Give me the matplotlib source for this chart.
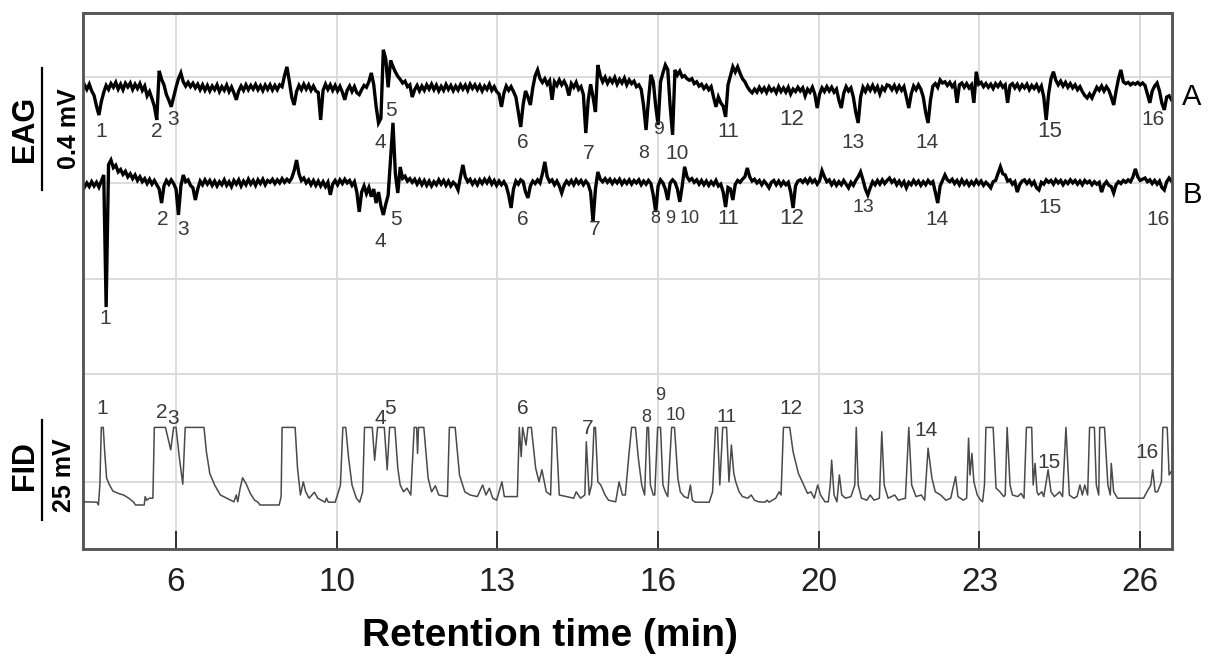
import numpy as np
import matplotlib
matplotlib.use("Agg")
import matplotlib.pyplot as plt
import matplotlib.transforms as mtransforms

plt.rcParams['font.family'] = ['Liberation Sans', 'DejaVu Sans']

# ---------------------------------------------------------------------------
# EAG recordings: deflection from resting level in microvolts,
# sampled every 0.05 min starting at 4.00 min (one row per minute)
# ---------------------------------------------------------------------------
eag_start = 4.0
eag_step = 0.05

eag_a = [
    5, -8, 10, -5, 12, -10, -25, -60, -89, -45, -15, 8, -5, 14, 2, 18, -4, 12, -6, 15,
    3, 16, -5, 12, -2, 14, -8, 6, -26, -12, -35, -60, -105, 56, 28, 10, -22, -40, -62, -30,
    2, 30, 49, 20, 6, 18, 4, 15, 0, 12, -6, 10, -8, 8, -10, 6, -6, 10, -12, 4,
    -8, 9, -12, 3, -16, -39, -10, 6, -8, 10, -6, 8, -4, 11, -6, 7, -9, 9, -5, 10,
    -7, 8, -6, 10, 4, 40, 69, 22, -30, -56, -12, 8, -6, 12, -4, 10, -8, 6, -10, -15,
    -105, -8, 12, -5, 10, -8, 8, -10, 5, -14, -39, -8, 6, -12, 4, -16, -22, -6, 8, 2,
    20, 49, 12, -60, -115, -100, 125, 95, 2, 90, 70, 52, 38, 28, 16, 22, 4, 10, -30, -6,
    8, -10, 6, -8, 10, -4, 12, -6, 9, -10, 5, -8, 11, -5, 8, -9, 6, -7, 10, -4,
    9, -8, 12, -2, 10, -6, 8, -10, 6, -5, 12, -8, 4, -12, -20, -62, -18, 6, -8, 4,
    -12, -30, -80, -128, -55, -10, -30, -56, 0, 40, 59, 30, 18, 30, 12, 24, -39, 20, 8, 26,
    10, 22, 6, -25, 14, 2, 18, -5, 4, -22, -148, -40, 12, -30, -79, 75, 40, 20, 35, 15,
    30, 18, 34, 12, 28, 16, 32, 10, 26, 14, 22, 4, 10, -5, -60, -138, -40, 43, 20, -60,
    -121, 20, 49, 75, 60, -60, -154, 59, 42, 55, 36, 40, 30, 25, 30, 14, 20, 6, 12, -2,
    8, -6, 4, -30, -62, -30, -49, -60, -95, 10, 40, 69, 52, 69, 48, 30, 20, 4, -8, -16,
    -4, -14, 2, -12, 0, -15, 3, -10, -2, -16, 4, -12, 0, -14, 2, -20, -4, -12, 2, -10,
    0, -26, -4, -14, 2, -20, -66, -20, 0, -12, 4, -10, 2, -14, -4, -40, -66, -18, 4, -10,
    0, -30, -80, -115, -30, 2, -12, 6, -8, 8, -10, 4, -20, 2, -8, 10, 7, -6, 8, -10,
    6, -8, 4, -30, -66, -20, 6, -6, 10, -4, -30, -80, -115, -40, 6, 14, 2, 26, 16, 20,
    8, 18, 4, 14, -49, 10, 16, 2, 14, 0, 10, -49, 53, 12, 18, 4, 14, 2, 12, -2,
    14, 4, 16, 2, 10, -49, 8, 14, 0, 12, -4, 10, 0, 12, -6, 8, -2, 10, -8, 6,
    -30, -105, -20, 30, 53, 25, 10, 22, 6, 18, 2, 14, 0, 10, -6, 4, -12, -25, -33, -20,
    -33, -15, 2, -8, 6, -10, 4, -8, -30, -56, -10, 30, 59, 20, 14, 18, 10, 16, 12, 18,
    10, 16, 8, -20, -49, -10, 6, 16, -10, -50, -72, -30, -26, -39,
]

eag_b = [
    -10, 2, -14, 0, -12, 4, -10, 2, -14, 6, 26, -407, 60, 75, 50, 58, 36, 44, 28, 38,
    20, 30, 14, 26, 8, 20, 4, 14, -2, 12, -4, 8, -6, -20, -66, -10, 8, -4, 10, -2,
    -20, -105, -10, 26, 4, 10, -8, -16, -56, -20, 6, -6, 10, -4, 8, -8, 6, -10, 4, -6,
    10, -8, 4, -12, 8, -4, 10, -10, 6, -6, 12, -4, 8, -8, 10, -2, 12, -6, 8, 2,
    12, -2, 10, 0, 14, 2, 12, 4, 16, 40, 75, 30, 8, 16, 0, 10, -6, 8, -8, 6,
    -10, 4, -12, 2, -39, -4, 8, -6, 10, -2, 12, 0, 8, -8, 4, -30, -95, -30, -10, -35,
    -15, -45, -20, -66, -30, -75, -105, -70, -40, 80, 197, 30, -33, 52, 15, 22, 6, 14, 2, 12,
    -4, 10, -6, 8, -8, 6, -10, 4, -6, 10, -4, 8, -8, 6, -10, 2, -6, -23, 20, 59,
    20, 4, 12, -4, 8, -6, 10, -2, 12, 0, 14, -4, 8, -8, 6, -6, 4, -10, -40, -82,
    -20, 6, -4, 10, 4, -30, -49, -10, 6, -2, 10, 0, 30, 69, 20, 4, 10, -6, 6, -10,
    -33, -8, 6, -4, 8, -6, 10, -2, 8, -6, 6, -4, -30, -128, -20, 36, 12, 4, 14, 2,
    12, -2, 10, 0, 12, -4, 8, -2, 10, -4, 8, 0, 10, -6, 6, -4, 8, -2, -40, -95,
    -10, 10, 0, -20, -56, 0, 10, 2, -20, -62, -10, 53, 20, 8, 14, 2, 10, -4, 8, -6,
    6, -8, 4, -6, 8, -10, -4, -30, -79, -15, -20, -56, -5, 8, 2, 12, 20, 49, 20, 6,
    12, 0, 8, -6, 6, -4, -16, 2, 8, -6, 6, -8, 4, -6, 2, -30, -82, -10, 6, 10,
    2, 12, 0, 14, 2, 10, -4, 8, 40, 20, 4, 10, -6, 6, -8, 4, -6, 8, -4, -16,
    2, -8, 8, 20, 36, 10, -20, -39, -16, 4, -6, 8, -4, 10, -2, 8, 16, 2, 10, -6,
    6, -8, 4, -16, 2, -6, 8, -4, 6, -8, 4, -6, 8, -2, 4, -30, -66, -10, 8, 26,
    10, 4, 12, -2, 8, -6, 10, -4, 6, -8, 4, -6, 8, -4, 6, -8, 2, -6, -16, 4,
    8, 30, 53, 30, 26, 6, 10, -4, 4, -30, -6, 6, 10, -2, 8, -6, 4, -16, -23, 2,
    -4, 10, 2, 8, -4, 10, 0, 8, -6, 6, -2, 10, 0, 8, -4, 6, -6, 8, 0, 6,
    -6, 4, -4, 2, -30, -6, 4, -8, -12, -33, -6, 4, -2, 8, 2, 10, 4, 20, 46, 20,
    8, 12, 16, 4, 10, -2, 8, -4, 6, -15, -23, 4, 16, 6,
]

# ---------------------------------------------------------------------------
# FID chromatogram (min, mV above baseline); flat tops are detector clipping
# ---------------------------------------------------------------------------
fid_time = [
    4.07, 4.36, 4.39, 4.42, 4.45, 4.49, 4.52, 4.56, 4.62, 4.69, 4.80, 4.91, 5.02, 5.12, 5.16,
    5.34, 5.36, 5.39, 5.45, 5.52, 5.55, 5.78, 5.89, 5.95, 6.00, 6.07, 6.14, 6.19, 6.58, 6.63,
    6.70, 6.80, 6.92, 7.05, 7.20, 7.25, 7.28, 7.33, 7.38, 7.45, 7.54, 7.63, 7.70, 7.74, 8.14,
    8.18, 8.20, 8.47, 8.52, 8.58, 8.64, 8.69, 8.76, 8.87, 8.94, 9.09, 9.12, 9.16, 9.30, 9.36,
    9.41, 9.46, 9.52, 9.58, 9.65, 9.74, 9.81, 9.87, 9.91, 10.07, 10.12, 10.18, 10.32, 10.38,
    10.43, 10.54, 10.60, 10.65, 10.72, 10.79, 10.87, 10.94, 10.99, 11.01, 11.03, 11.14,
    11.23, 11.30, 11.38, 11.45, 11.63, 11.67, 11.79, 11.88, 11.99, 12.10, 12.25, 12.36,
    12.43, 12.50, 12.57, 12.65, 12.76, 12.81, 13.08, 13.12, 13.16, 13.19, 13.26, 13.30,
    13.37, 13.46, 13.53, 13.59, 13.68, 13.77, 13.81, 13.88, 13.95, 14.25, 14.30, 14.39,
    14.48, 14.51, 14.57, 14.62, 14.67, 14.70, 14.75, 14.81, 14.90, 14.97, 15.12, 15.19,
    15.26, 15.32, 15.40, 15.45, 15.53, 15.59, 15.66, 15.72, 15.77, 15.80, 15.84, 15.90,
    15.93, 15.99, 16.05, 16.10, 16.15, 16.20, 16.28, 16.34, 16.41, 16.46, 16.54, 16.62,
    16.67, 16.71, 16.77, 17.06, 17.13, 17.19, 17.23, 17.28, 17.34, 17.42, 17.47, 17.52,
    17.57, 17.61, 17.68, 17.75, 17.86, 17.93, 18.00, 18.08, 18.22, 18.26, 18.30, 18.44,
    18.51, 18.55, 18.60, 18.73, 18.80, 18.91, 19.02, 19.10, 19.17, 19.24, 19.31, 19.37,
    19.46, 19.53, 19.57, 19.60, 19.65, 19.71, 19.76, 19.81, 19.89, 20.00, 20.08, 20.11,
    20.15, 20.22, 20.33, 20.40, 20.48, 20.59, 20.64, 20.69, 20.77, 20.91, 20.98, 21.13,
    21.20, 21.26, 21.35, 21.46, 21.53, 21.60, 21.68, 21.75, 21.86, 21.97, 22.07, 22.17,
    22.22, 22.33, 22.40, 22.44, 22.47, 22.51, 22.55, 22.62, 22.69, 22.73, 22.77, 22.80,
    22.95, 23.01, 23.09, 23.17, 23.20, 23.24, 23.30, 23.35, 23.46, 23.53, 23.59, 23.64,
    23.75, 23.78, 23.82, 23.86, 23.89, 23.96, 24.00, 24.04, 24.09, 24.15, 24.22, 24.33,
    24.39, 24.46, 24.53, 24.62, 24.69, 24.75, 24.80, 24.85, 24.91, 24.95, 25.05, 25.09,
    25.14, 25.16, 25.26, 25.33, 25.38, 25.40, 25.45, 25.53, 26.07, 26.14, 26.22, 26.26,
    26.31, 26.36, 26.44, 26.47, 26.56, 26.60, 26.64,
]
fid_mv = [
    0.8, 0.7, 0.0, 5.0, 19.4, 19.4, 13.3, 6.7, 5.0, 3.5, 2.9, 2.5, 1.7, 0.7, 0.0,
    0.0, 2.1, 1.2, 1.7, 1.7, 19.4, 19.4, 13.8, 19.4, 19.4, 11.7, 5.2, 19.4, 19.4, 13.3,
    7.9, 5.0, 2.5, 1.7, 0.8, 2.5, 0.8, 4.2, 6.8, 5.4, 2.9, 1.2, 0.7, 0.0, 0.0,
    2.1, 19.4, 19.4, 9.2, 2.5, 5.8, 3.3, 1.7, 3.2, 1.7, 0.7, 1.7, 0.7, 0.7, 2.9,
    5.0, 19.4, 19.4, 11.7, 5.0, 1.7, 0.7, 3.2, 19.4, 19.4, 11.2, 19.4, 19.4, 8.8,
    19.4, 19.4, 9.2, 5.0, 3.3, 4.2, 2.5, 19.4, 19.4, 12.9, 19.4, 19.4,
    6.7, 3.3, 4.8, 2.5, 2.1, 19.4, 19.4, 7.5, 3.3, 2.5, 2.1, 5.0,
    2.5, 4.2, 1.7, 1.2, 5.8, 2.1, 2.1, 19.4, 12.1, 19.4, 15.0, 19.4,
    19.4, 9.2, 5.8, 8.8, 3.3, 2.5, 19.4, 19.4, 2.5, 1.7, 3.3, 1.7,
    2.5, 15.8, 2.5, 5.0, 19.4, 19.4, 5.8, 5.0, 2.5, 1.2, 0.8, 5.8,
    2.5, 2.5, 13.3, 19.4, 19.4, 11.7, 5.0, 2.5, 19.4, 19.4, 5.0, 2.5,
    2.5, 19.4, 19.4, 5.0, 3.3, 2.1, 19.4, 19.4, 6.7, 3.3, 2.1, 1.7,
    5.0, 1.2, 0.7, 0.7, 3.3, 19.4, 19.4, 5.0, 19.4, 19.4, 5.8, 15.0,
    7.9, 5.8, 3.3, 2.1, 1.7, 2.5, 1.2, 0.8, 0.7, 1.2, 0.7, 1.7,
    3.3, 2.5, 19.4, 19.4, 13.3, 7.9, 5.0, 2.9, 3.3, 1.7, 5.0, 2.5,
    0.8, 0.8, 5.0, 11.2, 2.5, 0.8, 7.5, 2.5, 1.7, 2.1, 5.0, 19.4,
    5.0, 1.7, 1.2, 2.5, 1.2, 1.7, 18.3, 5.0, 1.7, 2.5, 1.2, 1.7,
    19.4, 5.0, 2.1, 2.5, 1.2, 14.2, 6.7, 3.3, 2.5, 1.2, 1.7, 7.1,
    2.1, 1.2, 1.7, 16.7, 7.5, 12.9, 5.8, 2.5, 1.2, 0.8, 5.0, 19.4,
    19.4, 4.2, 3.3, 2.1, 2.5, 19.4, 5.0, 2.5, 2.1, 2.9, 1.7, 19.4,
    19.4, 5.0, 10.4, 3.3, 2.5, 3.3, 2.1, 5.0, 8.8, 3.3, 2.1, 3.3,
    2.1, 19.4, 2.5, 1.7, 2.1, 5.0, 2.5, 5.0, 2.5, 19.4, 19.4, 5.0,
    2.5, 19.4, 19.4, 5.0, 2.5, 10.4, 3.3, 1.7, 1.7, 3.3, 5.0, 8.8,
    3.3, 3.3, 5.8, 19.4, 19.4, 7.5, 8.3,
]

peak_ids = [str(i) for i in range(1, 17)]

# x-axis tick text
tick_labels = ['6', '10', '13', '16', '20', '23', '26']

# scale bars
eag_bar_mv = 0.4
fid_bar_mv = 25

# ---------------------------------------------------------------------------
# Layout
# ---------------------------------------------------------------------------
offset_a = 0.3115          # vertical shift of antenna A trace (mV)
eag_ylim = (-1.200, 0.557)
fid_ylim = (-11.0, 123.0)
xlim = (4.07, 26.66)

label_a_t = [4.44, 5.61, 5.94, 10.23, 10.46, 13.20, 14.55, 15.69, 16.00, 16.39,
             17.45, 18.78, 20.05, 21.58, 24.13, 26.27]
label_a_y = [0.167, 0.167, 0.207, 0.131, 0.239, 0.134, 0.098, 0.098, 0.174, 0.098,
             0.167, 0.207, 0.134, 0.134, 0.167, 0.207]
label_a_fs = [15, 15, 15, 15, 15, 15, 15, 14, 14, 15, 15, 16, 15, 15, 16, 15]

label_b_t = [4.53, 5.73, 6.15, 10.23, 10.56, 13.20, 14.69, 15.94, 16.25, 16.66,
             17.45, 18.78, 20.25, 21.79, 24.13, 26.37]
label_b_y = [-0.443, -0.121, -0.154, -0.193, -0.121, -0.121, -0.154, -0.115, -0.115,
             -0.115, -0.115, -0.115, -0.082, -0.121, -0.082, -0.121]
label_b_fs = [15, 15, 15, 15, 15, 15, 15, 13, 13, 13, 15, 16, 14, 15, 15, 15]

label_f_t = [4.46, 5.71, 5.94, 10.23, 10.44, 13.20, 14.53, 15.75, 16.04, 16.37,
             17.43, 18.76, 20.05, 21.56, 24.11, 26.15]
label_f_y = [24.25, 23.25, 21.75, 21.75, 24.25, 24.25, 19.25, 22.0, 27.5, 22.5,
             21.75, 24.25, 24.25, 18.75, 10.75, 13.25]
label_f_fs = [15, 15, 15, 15, 15, 15, 15, 13, 13, 13, 14, 15, 15, 15, 15, 15]

grid_levels = [0.348, 0.0, -0.315, -0.626, -0.980]

label_color = '#3a3a3a'
spine_color = '#555555'

fig = plt.figure(figsize=(12.09, 6.62), dpi=100)
ax = fig.add_axes([83 / 1209, 113 / 662, 1089 / 1209, 536 / 662])
ax2 = ax.twinx()

# EAG traces
t_a = eag_start + eag_step * np.arange(len(eag_a))
t_b = eag_start + eag_step * np.arange(len(eag_b))
ax.plot(t_a, np.asarray(eag_a) / 1000.0 + offset_a, color='black', lw=2.4,
        solid_joinstyle='miter', zorder=3)
ax.plot(t_b, np.asarray(eag_b) / 1000.0, color='black', lw=2.4,
        solid_joinstyle='miter', zorder=3)

# FID trace
ax2.plot(fid_time, fid_mv, color='#4a4a4a', lw=1.1, zorder=3)

ax.set_xlim(*xlim)
ax.set_ylim(*eag_ylim)
ax2.set_ylim(*fid_ylim)

# peak numbers
for lab, t, y, fs in zip(peak_ids, label_a_t, label_a_y, label_a_fs):
    ax.text(t, y, lab, ha='center', va='center', fontsize=fs,
            color=label_color, zorder=4)
for lab, t, y, fs in zip(peak_ids, label_b_t, label_b_y, label_b_fs):
    ax.text(t, y, lab, ha='center', va='center', fontsize=fs, color=label_color, zorder=4)
for lab, t, y, fs in zip(peak_ids, label_f_t, label_f_y, label_f_fs):
    ax2.text(t, y, lab, ha='center', va='center', fontsize=fs, color=label_color, zorder=4)

tr_eag = mtransforms.blended_transform_factory(ax.transAxes, ax.transData)
tr_fid = mtransforms.blended_transform_factory(ax2.transAxes, ax2.transData)

# antenna names
ax.text(1.0184, offset_a - 0.030, 'A', transform=tr_eag, ha='center', va='center',
        fontsize=21, clip_on=False)
ax.text(1.0184, -0.039, 'B', transform=tr_eag, ha='center', va='center',
        fontsize=21, clip_on=False)

# scale bars with their labels
bar_x = -0.0377
eag_bar_bottom = -0.023
fid_bar_bottom = -3.75
ax.plot([bar_x, bar_x], [eag_bar_bottom, eag_bar_bottom + eag_bar_mv], transform=tr_eag,
        color='black', lw=1.6, clip_on=False)
ax2.plot([bar_x, bar_x], [fid_bar_bottom, fid_bar_bottom + fid_bar_mv], transform=tr_fid,
         color='black', lw=1.6, clip_on=False)
ax.text(-0.0533, eag_bar_bottom + eag_bar_mv / 2, 'EAG', transform=tr_eag, rotation=90,
        ha='center', va='center', fontsize=22, fontweight='bold')
ax.text(-0.0129, eag_bar_bottom + eag_bar_mv / 2, f'{eag_bar_mv} mV', transform=tr_eag,
        rotation=90, ha='center', va='center', fontsize=18, fontweight='bold')
ax2.text(-0.0533, 9.75, 'FID', transform=tr_fid, rotation=90,
         ha='center', va='center', fontsize=22, fontweight='bold')
ax2.text(-0.0174, 7.5, f'{fid_bar_mv} mV', transform=tr_fid, rotation=90,
         ha='center', va='center', fontsize=18, fontweight='bold')

# axes cosmetics
ax.set_xticks(np.linspace(6, 26, 7))
ax.set_xticklabels(tick_labels)
ax.tick_params(axis='x', direction='in', length=13, width=1.3, colors='#222222',
               labelsize=24, pad=13)
ax.set_yticks(grid_levels)
ax.tick_params(axis='y', length=0, labelleft=False)
ax2.set_yticks([])
ax.grid(True, color='#d9d9d9', lw=1.3)
ax.set_axisbelow(True)
for sp in list(ax.spines.values()) + list(ax2.spines.values()):
    sp.set_color(spine_color)
    sp.set_linewidth(1.8)

ax.set_xlabel('Retention time (min)', fontsize=28, fontweight='bold')
ax.xaxis.set_label_coords(0.429, -0.128)
ax.xaxis.label.set_va('top')

fig.savefig('out.png', dpi=100)
